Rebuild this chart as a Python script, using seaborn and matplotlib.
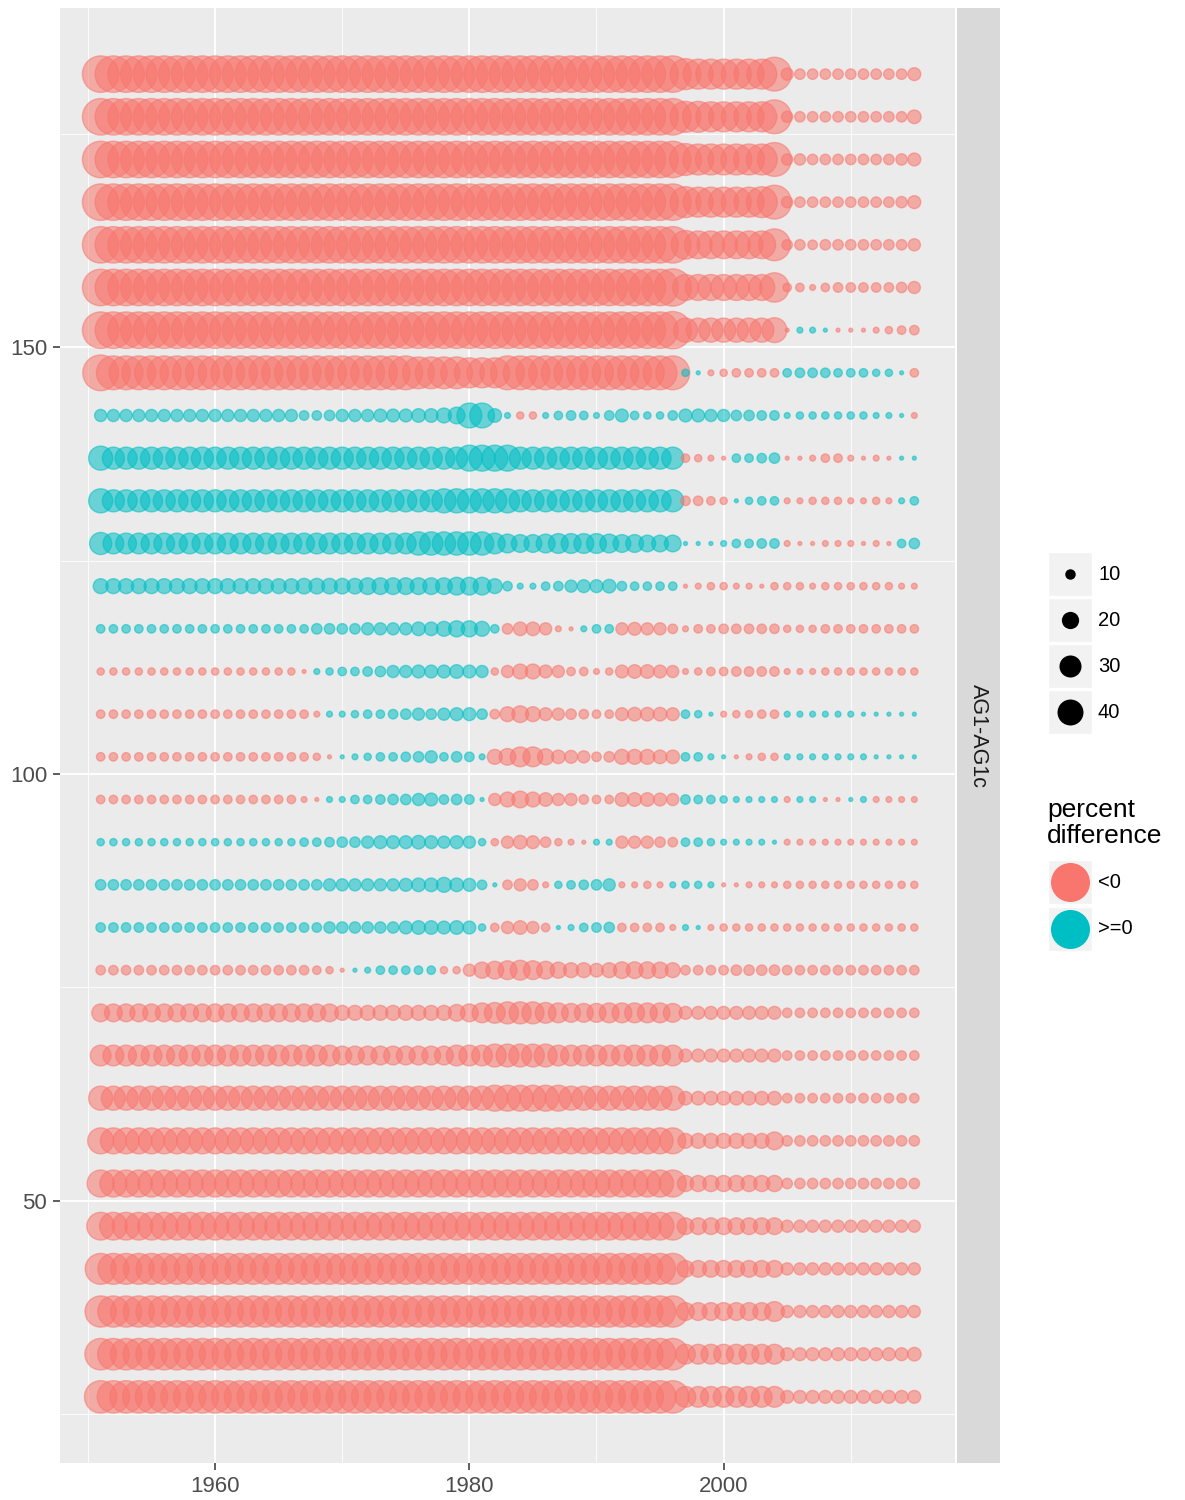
import numpy as np
import pandas as pd
import seaborn as sns
import matplotlib
matplotlib.use('Agg')
from matplotlib import pyplot as plt
from matplotlib.patches import Rectangle

plt.rcParams['font.family'] = ['Liberation Sans', 'DejaVu Sans']

years = list(range(1951, 2016))

# percent difference per year, one list per row (sign -> colour, magnitude -> size)
row_182 = [-75, -75, -75, -75, -75, -75, -75, -75, -75, -75,
           -75, -75, -75, -75, -75, -75, -75, -75, -75, -75,
           -75, -75, -75, -75, -75, -75, -75, -75, -75, -75,
           -75, -75, -75, -75, -75, -75, -75, -75, -75, -75,
           -75, -75, -75, -75, -75, -75, -55, -52, -52, -52,
           -52, -52, -52, -65, -12, -10, -10, -10, -10, -10,
           -10, -10, -10, -10, -13]
row_177 = [-75, -75, -75, -75, -75, -75, -75, -75, -75, -75,
           -75, -75, -75, -75, -75, -75, -75, -75, -75, -75,
           -75, -75, -75, -75, -75, -75, -75, -75, -75, -75,
           -75, -75, -75, -75, -75, -75, -75, -75, -75, -75,
           -75, -75, -75, -75, -75, -75, -55, -55, -52, -52,
           -52, -52, -52, -65, -11, -10, -10, -10, -10, -10,
           -10, -10, -10, -10, -14]
row_172 = [-75, -75, -75, -75, -75, -75, -75, -75, -75, -75,
           -75, -75, -75, -75, -75, -75, -75, -75, -75, -75,
           -75, -75, -75, -75, -75, -75, -75, -75, -75, -75,
           -75, -75, -75, -75, -75, -75, -75, -75, -75, -75,
           -75, -75, -75, -75, -75, -75, -58, -55, -55, -55,
           -55, -55, -55, -65, -11, -11, -10, -10, -10, -10,
           -10, -10, -10, -11, -13]
row_167 = [-75, -75, -75, -75, -75, -75, -75, -75, -75, -75,
           -75, -75, -75, -75, -75, -75, -75, -75, -75, -75,
           -75, -75, -75, -75, -75, -75, -75, -75, -75, -75,
           -75, -75, -75, -75, -75, -75, -75, -75, -75, -75,
           -75, -75, -75, -75, -75, -75, -55, -52, -52, -52,
           -52, -52, -55, -65, -11, -10, -10, -10, -10, -10,
           -10, -10, -10, -11, -13]
row_162 = [-75, -75, -75, -75, -75, -75, -75, -75, -75, -75,
           -75, -75, -75, -75, -75, -75, -75, -75, -75, -75,
           -75, -75, -75, -75, -75, -75, -75, -75, -75, -75,
           -75, -75, -75, -75, -75, -75, -75, -75, -75, -75,
           -75, -75, -75, -75, -75, -75, -48, -45, -45, -45,
           -45, -45, -45, -58, -10, -10, -9, -10, -10, -10,
           -10, -10, -10, -10, -12]
row_157 = [-75, -75, -75, -75, -75, -75, -75, -75, -75, -75,
           -75, -75, -75, -75, -75, -75, -75, -75, -75, -75,
           -75, -75, -75, -75, -75, -75, -75, -75, -75, -75,
           -75, -75, -75, -75, -75, -75, -75, -75, -75, -75,
           -75, -75, -75, -75, -75, -78, -40, -40, -40, -40,
           -40, -40, -40, -50, -8, -8, -6, -8, -9, -9,
           -9, -9, -9, -10, -12]
row_152 = [-75, -75, -75, -75, -75, -75, -75, -75, -75, -75,
           -75, -75, -75, -75, -75, -75, -75, -75, -75, -75,
           -75, -75, -75, -75, -75, -75, -75, -75, -75, -75,
           -75, -75, -75, -75, -75, -75, -75, -75, -75, -75,
           -75, -75, -75, -75, -75, -78, -35, -35, -35, -35,
           -35, -35, -35, -37, -5, 6, 6, 5, -5, -5,
           -5, -6, -7, -8, -9]
row_147 = [-72, -65, -65, -65, -65, -65, -65, -65, -65, -65,
           -65, -65, -65, -65, -65, -65, -65, -65, -65, -65,
           -65, -65, -65, -65, -65, -58, -58, -58, -58, -52,
           -52, -52, -65, -65, -65, -65, -65, -65, -65, -65,
           -65, -65, -65, -65, -65, -65, 7, 5, -6, -7,
           -8, -8, -8, -8, 8, 9, 9, 9, 8, 8,
           8, 7, 7, 5, -8]
row_142 = [12, 12, 12, 12, 12, 12, 12, 12, 12, 12,
           12, 12, 12, 12, 12, 12, 9, 9, 10, 12,
           12, 12, 13, 13, 13, 14, 14, 16, 19, 37,
           37, 14, 6, -7, -7, 6, 8, 9, 8, 6,
           9, 13, 8, 7, 7, 9, 13, 13, 12, 12,
           10, 10, 9, 9, 6, 7, 7, 7, 7, 7,
           7, 6, 6, 5, -6]
row_137 = [35, 30, 30, 30, 30, 30, 30, 30, 30, 30,
           30, 30, 30, 30, 30, 30, 30, 30, 30, 30,
           30, 30, 30, 30, 30, 30, 30, 30, 30, 40,
           40, 40, 40, 30, 30, 30, 30, 30, 30, 30,
           30, 30, 30, 30, 30, 30, -8, -7, -6, -5,
           8, 8, 9, 10, -5, -5, -6, -8, -8, -6,
           -5, -6, -5, 5, 5]
row_132 = [35, 30, 30, 30, 30, 30, 30, 30, 30, 30,
           30, 30, 30, 30, 30, 30, 30, 30, 30, 30,
           30, 30, 30, 30, 30, 30, 30, 35, 35, 35,
           35, 35, 35, 30, 30, 30, 30, 30, 30, 30,
           30, 30, 30, 30, 30, 30, -9, -9, -8, -7,
           5, 7, 8, 8, -6, -6, -7, -7, -7, -6,
           -6, -7, -6, 6, 8]
row_127 = [30, 27, 27, 27, 27, 27, 27, 27, 27, 27,
           27, 27, 27, 27, 27, 27, 27, 27, 27, 27,
           27, 27, 27, 27, 27, 33, 33, 33, 33, 33,
           33, 27, 23, 21, 21, 23, 25, 25, 25, 25,
           23, 21, 21, 19, 19, 19, 5, 5, 5, 6,
           8, 8, 9, 9, -6, -5, -5, -6, -6, -6,
           -5, -6, -5, 8, 10]
row_122 = [16, 16, 16, 16, 16, 16, 16, 16, 16, 16,
           16, 16, 16, 16, 16, 16, 17, 17, 17, 17,
           17, 19, 19, 19, 19, 19, 19, 19, 21, 21,
           21, 16, 9, 6, 6, 8, 9, 12, 13, 13,
           14, 9, 8, 8, 8, 8, -5, -6, -7, -7,
           -6, -6, -5, -7, -7, -7, -6, -7, -7, -7,
           -7, -7, -7, -6, -6]
row_117 = [8, 8, 8, 8, 8, 8, 8, 8, 8, 8,
           8, 8, 8, 8, 8, 8, 8, 10, 10, 10,
           10, 12, 12, 12, 12, 14, 14, 16, 18, 18,
           16, 8, -10, -14, -14, -12, -6, -5, 6, 8,
           8, -12, -13, -12, -12, -9, -6, -8, -8, -9,
           -9, -9, -9, -9, -7, -7, -7, -8, -8, -8,
           -8, -8, -8, -8, -8]
row_112 = [-7, -7, -7, -7, -7, -7, -7, -7, -7, -7,
           -7, -7, -7, -7, -7, -7, -5, 6, 7, 8,
           8, 9, 10, 12, 12, 13, 13, 13, 14, 13,
           12, -7, -12, -16, -16, -13, -12, -8, -8, -6,
           -7, -13, -14, -14, -13, -12, -6, -7, -8, -8,
           -9, -9, -9, -9, -6, -6, -6, -7, -7, -7,
           -7, -7, -7, -7, -7]
row_107 = [-8, -8, -8, -8, -8, -8, -8, -8, -8, -8,
           -8, -8, -8, -8, -8, -8, -8, -6, 6, 6,
           7, 8, 8, 9, 10, 12, 10, 12, 13, 13,
           10, -9, -16, -19, -16, -13, -12, -10, -9, -8,
           -8, -13, -14, -14, -14, -13, 8, 7, 5, -6,
           -7, -7, -8, -8, 6, 6, 6, 6, 6, 6,
           5, 5, 5, 5, 5]
row_102 = [-8, -8, -8, -8, -8, -8, -8, -8, -8, -8,
           -8, -8, -8, -8, -8, -8, -8, -7, -5, 5,
           6, 7, 8, 8, 9, 10, 12, 8, 10, 9,
           6, -16, -19, -25, -25, -18, -14, -13, -12, -9,
           -10, -16, -16, -16, -14, -14, 8, 8, 6, 5,
           -5, -6, -7, -7, 6, 6, 6, 6, 6, 6,
           6, 5, 5, 5, 5]
row_97 = [-8, -8, -8, -8, -8, -8, -8, -8, -8, -8,
          -8, -8, -8, -8, -8, -8, -6, -5, 6, 6,
          8, 8, 9, 10, 10, 12, 13, 9, 10, 9,
          5, -12, -16, -19, -16, -14, -12, -12, -9, -8,
          -8, -14, -14, -14, -13, -12, 9, 8, 8, 7,
          6, 6, 6, 6, -6, 6, 6, -5, -5, 5,
          6, -6, -6, -6, -6]
row_92 = [7, 7, 7, 7, 7, 7, 7, 7, 7, 7,
          7, 7, 7, 7, 7, 7, 8, 8, 9, 10,
          10, 12, 13, 13, 13, 14, 13, 12, 13, 12,
          7, -7, -12, -14, -13, -10, -7, -6, -5, 6,
          6, -12, -12, -12, -10, -9, 8, 8, 7, 6,
          6, 6, 6, 5, -6, -6, -6, -6, -6, -6,
          -6, -6, -6, -6, -6]
row_87 = [10, 10, 10, 10, 10, 10, 10, 10, 10, 10,
          10, 10, 10, 10, 10, 10, 10, 10, 12, 12,
          12, 12, 12, 12, 13, 14, 14, 16, 14, 13,
          9, 5, -9, -12, -10, -6, 7, 8, 9, 10,
          12, -6, -6, -7, -6, 6, 7, 7, 6, -5,
          -5, -6, -6, -6, -7, -7, -7, -7, -7, -7,
          -7, -7, -7, -7, -7]
row_82 = [9, 9, 9, 9, 9, 9, 9, 9, 9, 9,
          9, 9, 9, 9, 9, 9, 9, 9, 11, 11,
          11, 11, 11, 11, 13, 14, 14, 13, 14, 13,
          7, -8, -12, -14, -12, -8, 5, 6, 8, 9,
          10, -8, -8, -8, -8, -6, 6, 5, -6, -7,
          -7, -7, -7, -7, -7, -7, -7, -7, -7, -7,
          -7, -7, -7, -7, -7]
row_77 = [-9, -9, -9, -9, -9, -9, -9, -9, -9, -9,
          -9, -9, -9, -9, -9, -9, -9, -8, -7, -5,
          5, 6, 8, 8, 8, 8, 8, -7, -7, -12,
          -18, -21, -23, -25, -23, -21, -18, -16, -16, -14,
          -16, -19, -19, -19, -18, -16, -9, -9, -9, -9,
          -10, -10, -10, -10, -9, -9, -9, -9, -9, -9,
          -9, -9, -9, -9, -9]
row_72 = [-21, -21, -21, -21, -21, -21, -21, -21, -21, -21,
          -21, -21, -21, -21, -21, -21, -21, -21, -21, -16,
          -16, -16, -16, -16, -16, -16, -16, -16, -19, -21,
          -25, -27, -30, -30, -30, -27, -25, -23, -23, -23,
          -25, -25, -25, -25, -25, -23, -13, -13, -13, -13,
          -13, -13, -13, -13, -9, -9, -9, -9, -9, -9,
          -9, -9, -9, -9, -9]
row_67 = [-27, -27, -27, -27, -27, -27, -27, -27, -27, -27,
          -27, -27, -27, -27, -27, -27, -27, -27, -27, -23,
          -23, -23, -23, -23, -23, -23, -23, -23, -27, -27,
          -27, -32, -32, -32, -32, -32, -27, -27, -27, -27,
          -27, -27, -27, -27, -27, -27, -13, -13, -13, -13,
          -13, -13, -13, -13, -9, -9, -9, -9, -9, -9,
          -9, -9, -9, -9, -9]
row_62 = [-35, -35, -35, -35, -35, -35, -35, -35, -35, -35,
          -35, -35, -35, -35, -35, -35, -35, -35, -35, -35,
          -35, -35, -35, -35, -35, -35, -35, -35, -35, -35,
          -35, -40, -40, -40, -40, -40, -40, -35, -35, -35,
          -35, -35, -35, -35, -35, -35, -14, -14, -14, -14,
          -14, -14, -14, -14, -9, -9, -9, -9, -9, -9,
          -9, -9, -9, -9, -9]
row_57 = [-40, -40, -40, -40, -40, -40, -40, -40, -40, -40,
          -40, -40, -40, -40, -40, -40, -40, -40, -40, -40,
          -40, -40, -40, -40, -40, -40, -40, -40, -40, -40,
          -40, -40, -40, -40, -40, -40, -40, -40, -40, -40,
          -40, -40, -40, -40, -40, -40, -16, -16, -16, -16,
          -16, -16, -16, -21, -10, -10, -10, -10, -10, -10,
          -10, -10, -10, -10, -10]
row_52 = [-43, -43, -43, -43, -43, -43, -43, -43, -43, -43,
          -43, -43, -43, -43, -43, -43, -43, -43, -43, -43,
          -43, -43, -43, -43, -43, -43, -43, -43, -43, -43,
          -43, -43, -43, -43, -43, -43, -43, -43, -43, -43,
          -43, -43, -43, -43, -43, -43, -18, -18, -18, -18,
          -18, -18, -18, -18, -10, -10, -10, -10, -10, -10,
          -10, -10, -10, -10, -10]
row_47 = [-45, -45, -45, -45, -45, -45, -45, -45, -45, -45,
          -45, -45, -45, -45, -45, -45, -45, -45, -45, -45,
          -45, -45, -45, -45, -45, -45, -45, -45, -45, -45,
          -45, -45, -45, -45, -45, -45, -45, -45, -45, -45,
          -45, -45, -45, -45, -45, -45, -19, -19, -19, -19,
          -19, -19, -19, -19, -12, -12, -12, -12, -12, -12,
          -12, -12, -12, -12, -12]
row_42 = [-55, -55, -55, -55, -55, -55, -55, -55, -55, -55,
          -55, -55, -55, -55, -55, -55, -55, -55, -55, -55,
          -55, -55, -55, -55, -55, -55, -55, -55, -55, -55,
          -55, -55, -55, -55, -55, -55, -55, -55, -55, -55,
          -55, -55, -55, -55, -55, -55, -19, -19, -19, -19,
          -19, -19, -19, -19, -12, -12, -12, -12, -12, -12,
          -12, -12, -12, -12, -12]
row_37 = [-56, -56, -56, -56, -56, -56, -56, -56, -56, -56,
          -56, -56, -56, -56, -56, -56, -56, -56, -56, -56,
          -56, -56, -56, -56, -56, -56, -56, -56, -56, -56,
          -56, -56, -56, -56, -56, -56, -56, -56, -56, -56,
          -56, -56, -56, -56, -56, -56, -21, -21, -21, -21,
          -21, -21, -21, -25, -12, -12, -12, -12, -12, -12,
          -12, -12, -12, -12, -12]
row_32 = [-57, -57, -57, -57, -57, -57, -57, -57, -57, -57,
          -57, -57, -57, -57, -57, -57, -57, -57, -57, -57,
          -57, -57, -57, -57, -57, -57, -57, -57, -57, -57,
          -57, -57, -57, -57, -57, -57, -57, -57, -57, -57,
          -57, -57, -57, -57, -57, -57, -25, -25, -25, -25,
          -25, -25, -25, -25, -13, -13, -13, -13, -13, -13,
          -13, -13, -13, -13, -14]
row_27 = [-60, -60, -60, -60, -60, -60, -60, -60, -60, -60,
          -60, -60, -60, -60, -60, -60, -60, -60, -60, -60,
          -60, -60, -60, -60, -60, -60, -60, -60, -60, -60,
          -60, -60, -60, -60, -60, -60, -60, -60, -60, -60,
          -60, -60, -60, -60, -60, -60, -27, -27, -27, -27,
          -27, -27, -27, -27, -13, -13, -13, -13, -13, -13,
          -13, -13, -13, -13, -13]

row_positions = [182, 177, 172, 167, 162, 157, 152, 147, 142, 137, 132, 127, 122, 117, 112, 107,
                 102, 97, 92, 87, 82, 77, 72, 67, 62, 57, 52, 47, 42, 37, 32, 27]
row_values = [row_182, row_177, row_172, row_167, row_162, row_157, row_152, row_147,
              row_142, row_137, row_132, row_127, row_122, row_117, row_112, row_107,
              row_102, row_97, row_92, row_87, row_82, row_77, row_72, row_67,
              row_62, row_57, row_52, row_47, row_42, row_37, row_32, row_27]

size_breaks = [10, 20, 30, 40]
sign_labels = ['<0', '>=0']
sign_colors = ['#F8766D', '#00BFC4']
legend_title = 'percent\ndifference'
facet_label = 'AG1-AG1c'

records = []
for pos, vals in zip(row_positions, row_values):
    assert len(vals) == len(years)
    for yr, v in zip(years, vals):
        records.append((yr, pos, abs(v), '<0' if v < 0 else '>=0'))
df = pd.DataFrame(records, columns=['year', 'row', 'size', 'sign'])

SIZE_NORM = (5, 80)
SIZES = (8, 740)


def marker_area(v):
    return SIZES[0] + (SIZES[1] - SIZES[0]) * (v - SIZE_NORM[0]) / (SIZE_NORM[1] - SIZE_NORM[0])


W, H = 1185, 1500
fig = plt.figure(figsize=(W / 100, H / 100), dpi=100)
# panel: x 60..955 px, y 8..1463 px
ax = fig.add_axes([60 / W, 1 - 1463 / H, 895 / W, 1455 / H])
ax.set_facecolor('#EBEBEB')

sns.scatterplot(data=df, x='year', y='row', hue='sign', size='size',
                sizes=SIZES, size_norm=SIZE_NORM,
                palette=dict(zip(sign_labels, sign_colors)),
                alpha=0.55, edgecolor='face', linewidth=1.0, legend=False, ax=ax)

ax.set_xlim(1947.8, 2018.2)
ax.set_ylim(19.25, 189.75)
ax.set_xticks([1960, 1980, 2000])
ax.set_xticks([1950, 1970, 1990, 2010], minor=True)
ax.set_yticks([50, 100, 150])
ax.set_yticks([25, 75, 125, 175], minor=True)
ax.grid(which='major', color='white', linewidth=1.3)
ax.grid(which='minor', color='white', linewidth=0.6)
ax.set_axisbelow(True)
for s in ax.spines.values():
    s.set_visible(False)
ax.tick_params(which='major', length=5, width=1.1, color='#333333',
               labelsize=16, labelcolor='#4D4D4D', pad=4.3)
ax.tick_params(which='minor', length=0)
ax.set_xlabel('')
ax.set_ylabel('')

# facet strip on the right
strip = fig.add_axes([957 / W, 1 - 1463 / H, 43 / W, 1455 / H])
strip.set_facecolor('#D9D9D9')
strip.set_xticks([])
strip.set_yticks([])
for s in strip.spines.values():
    s.set_visible(False)
strip.text(0.5, 0.5, facet_label, rotation=270, ha='center', va='center',
           fontsize=15.5, color='#1A1A1A', transform=strip.transAxes)

# legends, laid out in pixel coordinates
lax = fig.add_axes([0, 0, 1, 1])
lax.set_xlim(0, W)
lax.set_ylim(H, 0)
lax.axis('off')

key_x, key_w = 1048, 44
for i, v in enumerate(size_breaks):
    cy = 574 + 46 * i
    lax.add_patch(Rectangle((key_x, cy - key_w / 2), key_w, key_w,
                            facecolor='#F2F2F2', edgecolor='white', linewidth=1))
    lax.scatter([key_x + key_w / 2], [cy], s=marker_area(v), color='black', linewidths=0)
    lax.text(1098, cy, str(v), ha='left', va='center', fontsize=14.5, color='black')

lax.text(1047, 823, legend_title, ha='left', va='center', fontsize=19,
         linespacing=1.1, color='black')
for i, (lab, c) in enumerate(zip(sign_labels, sign_colors)):
    cy = 882 + 47 * i
    lax.add_patch(Rectangle((key_x, cy - key_w / 2), key_w, key_w,
                            facecolor='#F2F2F2', edgecolor='white', linewidth=1))
    lax.scatter([key_x + key_w / 2], [cy], s=790, color=c, linewidths=0)
    lax.text(1098, cy, lab, ha='left', va='center', fontsize=14.5, color='black')

fig.savefig('out.png', dpi=100)
